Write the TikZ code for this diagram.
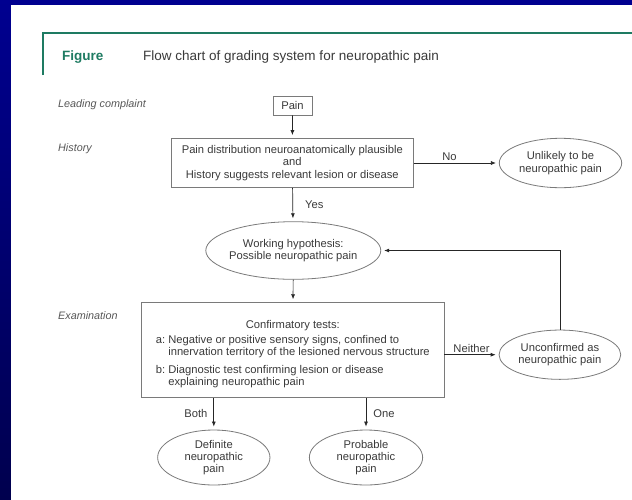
\documentclass[tikz,border=0pt]{standalone}
\usepackage{fontspec}
\setmainfont{Liberation Sans}
\usetikzlibrary{arrows.meta,shapes.geometric,positioning}
\definecolor{navy}{HTML}{000090}
\definecolor{navydark}{HTML}{00004E}
\definecolor{figgreen}{HTML}{1E7B62}
\definecolor{txt}{HTML}{3A3A3A}
\definecolor{edge}{HTML}{7A7A7A}
\newcommand\boxfont{\fontsize{11.2}{12.3}\selectfont}
\newcommand\sidefont{\fontsize{10.8}{12}\selectfont\itshape}
\tikzset{
  box/.style={draw=edge,line width=0.8pt,text=txt,inner sep=0pt,
              align=center,font=\boxfont},
  oval/.style={box,ellipse,inner xsep=-6pt},
  side/.style={text=txt!85,font=\sidefont,anchor=west,inner sep=0pt},
  flow/.style={-{Latex[length=5pt,width=4pt]},line width=0.7pt,
               black!85,shorten >=3pt},
  lbl/.style={text=txt,font=\boxfont,inner sep=2pt}
}

\begin{document}
\begin{tikzpicture}[x=1pt,y=-1pt]
%
  \useasboundingbox (0,0) rectangle (632,499) ;
  \shade [top color=navy,bottom color=navydark] (0,0) rectangle (632,499) ;
  \fill [white] (11,5) rectangle (640,510) ;
%
  \draw [figgreen,line width=1.5pt] (43,75) -- (43,33) -- (640,33) ;
  \node (figlbl) [anchor=west,inner sep=0pt,text=figgreen,
                  font=\fontsize{13.5}{15}\selectfont\bfseries] at (62,57) {Figure} ;
  \node (title) [anchor=west,inner sep=0pt,text=txt,
                 font=\fontsize{13.5}{15}\selectfont] at (143,57)
        {Flow chart of grading system for neuropathic pain} ;
%
  \node (lead) [side] at (58,105) {Leading complaint} ;
  \node (hista) [side] at (58,149) {History} ;
  \node (exama) [side] at (58,316) {Examination} ;
%
  \node (pain) [box,minimum width=39pt,minimum height=19pt] at (292.5,105.5) {Pain} ;
  \node (hist) [box,minimum width=242pt,minimum height=49pt] at (292.3,163)
        {Pain distribution neuroanatomically plausible\\and\\
         History suggests relevant lesion or disease} ;
  \node (work) [oval,minimum width=175pt,minimum height=57.6pt] at (293.3,250.5)
        {Working hypothesis:\\Possible neuropathic pain} ;
  \node (unlik) [oval,minimum width=122.4pt,minimum height=49.4pt] at (560.5,163)
        {Unlikely to be\\neuropathic pain} ;
%
  \node (exam) [box,minimum width=302.3pt,minimum height=94.7pt] at (292.8,350)
        {\rule{0pt}{18pt}Confirmatory tests:\\[3.4pt]
         \begin{tabular}{@{}l@{~}l@{}}
           a: & Negative or positive sensory signs, confined to\\
              & innervation territory of the lesioned nervous structure\\[5.4pt]
           b: & Diagnostic test confirming lesion or disease\\
              & explaining neuropathic pain
         \end{tabular}} ;
  \node (unconf) [oval,minimum width=121.7pt,minimum height=49.3pt] at (559.9,354.7)
        {Unconfirmed as\\neuropathic pain} ;
%
  \node (defin) [oval,minimum width=112.3pt,minimum height=55pt] at (213.8,457.5)
        {Definite\\neuropathic\\pain} ;
  \node (prob) [oval,minimum width=113.3pt,minimum height=55pt] at (366,457.5)
        {Probable\\neuropathic\\pain} ;
%
  \draw [flow] (pain) -- (hist) ;
  \draw [flow] (hist) -- (work) node [lbl,right=10pt,midway] {Yes} ;
  \draw [flow] (hist) -- (unlik) node [lbl,above,pos=0.42] {No} ;
  \draw [flow] (work) -- (exam) ;
%
  \draw [flow] (exam.east |- unconf.west) -- (unconf.west)
        node [lbl,above,midway] {Neither} ;
  \draw [flow] (unconf.north) |- (work.east) ;
%
  \draw [flow] (exam.south -| defin.north) -- (defin.north)
        node [lbl,left=4pt,midway] {Both} ;
  \draw [flow] (exam.south -| prob.north) -- (prob.north)
        node [lbl,right=5pt,midway] {One} ;
%
\end{tikzpicture}
\end{document}
